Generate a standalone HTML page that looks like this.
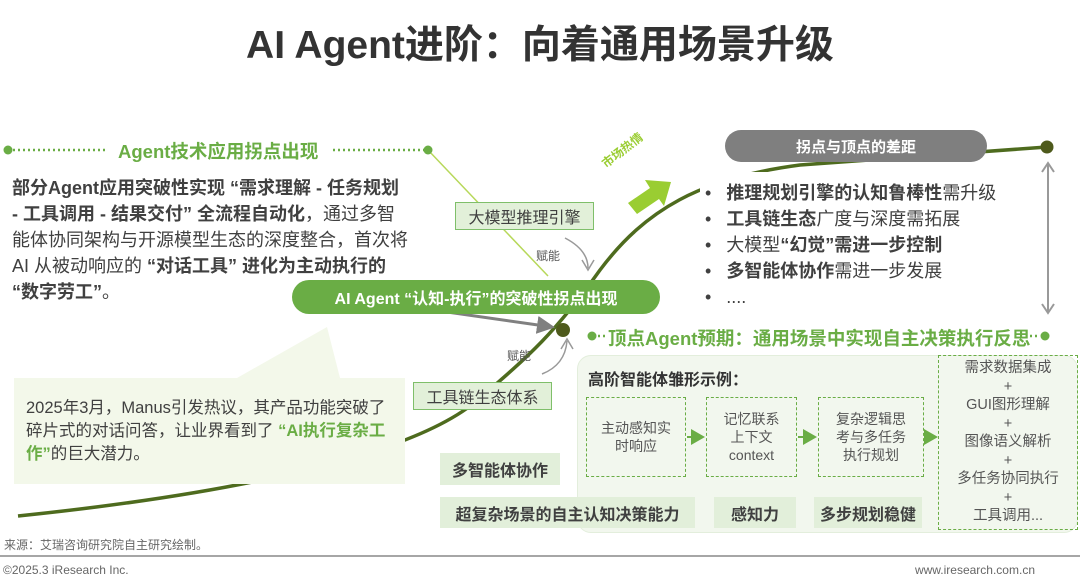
<!DOCTYPE html>
<html><head><meta charset="utf-8"><style>
*{margin:0;padding:0;box-sizing:border-box}
body{width:1080px;height:582px;background:#fff;position:relative;overflow:hidden;font-family:"Liberation Sans","Noto Sans CJK SC",sans-serif;color:#404040}
.a{position:absolute;white-space:nowrap}
.b{font-weight:bold}
.g{color:#6aad45}
.box{position:absolute;display:flex;align-items:center;justify-content:center;text-align:center}
.lb{background:#e2efda;color:#404040;font-weight:bold;font-size:16px}
.db{border:1.5px dashed #6aad45;font-size:14px;line-height:18px;color:#555}
</style></head><body>
<svg class="a" style="left:0;top:0" width="1080" height="582">
<defs>
<marker id="gh" markerWidth="6" markerHeight="6" refX="5" refY="3" orient="auto"><path d="M0,0 L6,3 L0,6 z" fill="#808080"/></marker>
</defs>
<polygon points="237,378 327,327 340,378" fill="#f3f8ea"/>
<path d="M18,516 C250,492 420,452 480,398 C530,355 555,333 600,270 C645,210 700,178 800,165 L1047,147" stroke="#4e6b1e" stroke-width="3.5" fill="none"/>
<line x1="428" y1="150" x2="548" y2="276" stroke="#b7d85a" stroke-width="1.5"/>
<line x1="8" y1="150" x2="105" y2="150" stroke="#6aad45" stroke-width="2.5" stroke-dasharray="2,3"/>
<line x1="333" y1="150" x2="428" y2="150" stroke="#6aad45" stroke-width="2.5" stroke-dasharray="2,3"/>
<circle cx="8" cy="150" r="4.5" fill="#6aad45"/><circle cx="428" cy="150" r="4.5" fill="#6aad45"/>
<circle cx="592" cy="336" r="4.5" fill="#6aad45"/><line x1="598" y1="336" x2="606" y2="336" stroke="#6aad45" stroke-width="2.5" stroke-dasharray="2,3"/>
<circle cx="1045" cy="336" r="4.5" fill="#6aad45"/><line x1="1030" y1="336" x2="1040" y2="336" stroke="#6aad45" stroke-width="2.5" stroke-dasharray="2,3"/>
<line x1="447" y1="312" x2="552" y2="327" stroke="#808080" stroke-width="3" marker-end="url(#gh)"/>
<path d="M565,238 Q588,250 588,268" stroke="#999" stroke-width="1.5" fill="none"/>
<path d="M582,260 L588,270 L594,260" stroke="#999" stroke-width="1.5" fill="none"/>
<path d="M542,374 Q565,365 567,341" stroke="#999" stroke-width="1.5" fill="none"/>
<path d="M561,349 L567,339 L573,349" stroke="#999" stroke-width="1.5" fill="none"/>
<polygon points="628,203 650,188 645,180 671,182 664,206 659,199 637,214" fill="#9acd32"/>
<line x1="1048" y1="164" x2="1048" y2="312" stroke="#999" stroke-width="2"/>
<path d="M1042,172 L1048,163 L1054,172 M1042,304 L1048,313 L1054,304" stroke="#999" stroke-width="2" fill="none"/>
<circle cx="563" cy="330" r="7" fill="#4e5a1c"/>
<circle cx="1047" cy="147" r="6.5" fill="#4e5a1c"/>
<line x1="0" y1="556" x2="1080" y2="556" stroke="#888" stroke-width="1.5"/>
</svg>
<div class="a b" style="left:0;width:1080px;text-align:center;top:14px;font-size:39px;color:#333">AI Agent进阶：向着通用场景升级</div>
<div class="a b g" style="left:118px;top:138px;font-size:18.5px">Agent技术应用拐点出现</div>
<div class="a" style="left:12px;top:175px;font-size:18px;line-height:26px;color:#404040">
<div class="b">部分Agent应用突破性实现 “需求理解 - 任务规划</div>
<div><span class="b">- 工具调用 - 结果交付” 全流程自动化</span>，通过多智</div>
<div>能体协同架构与开源模型生态的深度整合，首次将</div>
<div>AI 从被动响应的 <span class="b">“对话工具” 进化为主动执行的</span></div>
<div><span class="b">“数字劳工”</span>。</div>
</div>
<div class="a" style="left:14px;top:378px;width:391px;height:106px;background:#f3f8ea"></div>
<div class="a" style="left:26px;top:397px;font-size:16.5px;line-height:23px;color:#404040">2025年3月，Manus引发热议，其产品功能突破了<br>碎片式的对话问答，让业界看到了 <span class="b g">“AI执行复杂工</span><br><span class="b g">作”</span>的巨大潜力。</div>
<div class="box" style="left:455px;top:202px;width:139px;height:28px;background:#e2f0d9;border:1.5px solid #7fbf6a;font-size:16px">大模型推理引擎</div>
<div class="box" style="left:413px;top:382px;width:139px;height:28px;background:#e2f0d9;border:1.5px solid #7fbf6a;font-size:16px">工具链生态体系</div>
<div class="a" style="left:536px;top:247px;font-size:12px;color:#555">赋能</div>
<div class="a" style="left:507px;top:347px;font-size:12px;color:#555">赋能</div>
<div class="box b" style="left:292px;top:280px;width:368px;height:34px;border-radius:17px;background:#6aad45;color:#fff;font-size:16px">AI Agent “认知-执行”的突破性拐点出现</div>
<div class="a b" style="left:598px;top:158px;font-size:12px;color:#9acd32;transform:rotate(-38deg);transform-origin:left top">市场热情</div>
<div class="a" style="left:700px;top:172px;width:310px;height:140px;background:#fff"></div>
<div class="box b" style="left:725px;top:130px;width:262px;height:32px;border-radius:16px;background:#7f7f7f;color:#fff;font-size:15px">拐点与顶点的差距</div>
<div class="a" style="left:705px;top:180px;font-size:18px;line-height:26px;color:#404040">
<div>•&nbsp;&nbsp;&nbsp;<span class="b">推理规划引擎的认知鲁棒性</span>需升级</div>
<div>•&nbsp;&nbsp;&nbsp;<span class="b">工具链生态</span>广度与深度需拓展</div>
<div>•&nbsp;&nbsp;&nbsp;大模型<span class="b">“幻觉”需进一步控制</span></div>
<div>•&nbsp;&nbsp;&nbsp;<span class="b">多智能体协作</span>需进一步发展</div>
<div>•&nbsp;&nbsp;&nbsp;....</div>
</div>
<div class="a b g" style="left:608px;top:325px;font-size:18.5px">顶点Agent预期：通用场景中实现自主决策执行反思</div>
<div class="a" style="left:577px;top:355px;width:501px;height:178px;border-radius:14px;background:#f2f7ee;border:1px solid #e3eedc"></div>
<div class="a b" style="left:588px;top:366px;font-size:16px;color:#333">高阶智能体雏形示例：</div>
<div class="box db" style="left:586px;top:397px;width:100px;height:80px">主动感知实<br>时响应</div>
<div class="box db" style="left:706px;top:397px;width:91px;height:80px">记忆联系<br>上下文<br>context</div>
<div class="box db" style="left:818px;top:397px;width:106px;height:80px">复杂逻辑思<br>考与多任务<br>执行规划</div>
<div class="box db" style="left:938px;top:355px;width:140px;height:175px;line-height:18.5px;font-size:14.5px">需求数据集成<br>+<br>GUI图形理解<br>+<br>图像语义解析<br>+<br>多任务协同执行<br>+<br>工具调用...</div>
<svg class="a" style="left:0;top:0" width="1080" height="582">
<defs><marker id="ah2" markerWidth="8" markerHeight="8" refX="6" refY="4" orient="auto"><path d="M0,0 L7,4 L0,8 z" fill="#6aad45"/></marker></defs>
<line x1="687" y1="437" x2="703" y2="437" stroke="#6aad45" stroke-width="2" marker-end="url(#ah2)"/>
<line x1="798" y1="437" x2="815" y2="437" stroke="#6aad45" stroke-width="2" marker-end="url(#ah2)"/>
<line x1="925" y1="437" x2="936" y2="437" stroke="#6aad45" stroke-width="2" marker-end="url(#ah2)"/>
</svg>
<div class="box lb" style="left:440px;top:453px;width:120px;height:32px">多智能体协作</div>
<div class="box lb" style="left:440px;top:497px;width:255px;height:31px">超复杂场景的自主认知决策能力</div>
<div class="box lb" style="left:714px;top:497px;width:82px;height:31px">感知力</div>
<div class="box lb" style="left:814px;top:497px;width:108px;height:31px">多步规划稳健</div>
<div class="a" style="left:4px;top:536px;font-size:12px;color:#666">来源：艾瑞咨询研究院自主研究绘制。</div>
<div class="a" style="left:3px;top:563px;font-size:12px;color:#666">©2025.3 iResearch Inc.</div>
<div class="a" style="right:45px;top:563px;font-size:12px;color:#666">www.iresearch.com.cn</div>
</body></html>
